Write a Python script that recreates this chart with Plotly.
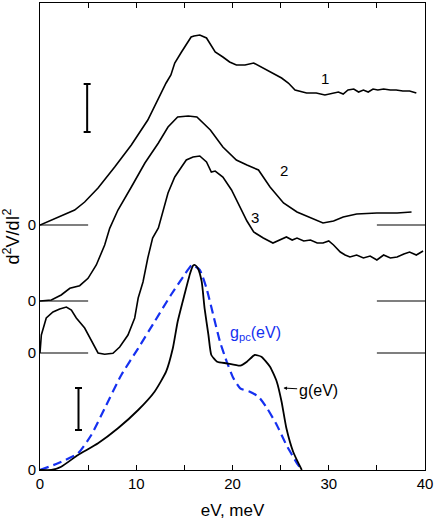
import plotly.graph_objects as go

# baselines of the stacked curves (arbitrary units, bottom = g(eV))
baselines = [245, 169, 117, 0]

# curve 1
c1_x = [0, 1.87, 3.6, 4.64, 6.03, 7.76, 9.49, 11.2, 12.3, 13.1, 13.6, 14.0, 14.7, 15.2,
        15.7, 16.0, 16.6, 17.3, 18.2, 19.0, 19.7, 20.4, 21.3, 22.2, 23.0, 24.1, 25.1,
        25.8, 26.5, 27.7, 28.7, 29.6, 30.5, 31.0, 31.5, 32.0, 32.6, 33.1, 33.6, 34.1,
        34.6, 35.1, 35.7, 36.4, 37.0, 37.7, 38.4, 39.1]
c1_y = [0, 8, 15, 23, 37, 58, 80, 105, 127, 142, 150, 162, 173, 181,
        188, 189, 190, 187, 173, 168, 163, 160, 160, 162, 158, 152, 147,
        142, 135, 132, 132, 130, 132, 133, 131, 135, 136, 133, 135, 133,
        136, 135, 136, 135, 135, 134, 134, 132]

# curve 2
c2_x = [0, 1.18, 2.2, 3.1, 4.12, 4.99, 5.85, 6.72, 7.24, 8.1, 9.49, 10.9, 12.3, 13.3,
        14.3, 15.4, 16.3, 17.7, 19.0, 20.4, 21.5, 22.7, 23.9, 25.3, 26.7, 28.1, 29.4,
        30.5, 31.5, 32.9, 35.0, 37.1, 38.6]
c2_y = [0, 1, 6, 12.7, 15.3, 22.7, 36, 56, 72.7, 91, 114, 138, 158, 174,
        184, 185, 184, 171, 154, 141, 136, 131, 114, 98, 89, 83, 78,
        80, 84, 87, 88, 88, 89]

# curve 3
c3_x = [0, 0.14, 0.65, 1.35, 2.05, 2.74, 3.26, 3.77, 4.64, 5.33, 6.03, 6.72, 7.58,
        8.28, 9.14, 9.84, 10.2, 10.7, 11.2, 11.7, 12.3, 13.3, 14.0, 14.7, 15.2, 15.9,
        16.6, 17.3, 17.8, 18.2, 19.0, 19.9, 20.8, 21.5, 22.2, 23.2, 24.2, 24.9, 25.6,
        26.2, 26.7, 27.4, 28.1, 28.8, 29.4, 30.0, 30.5, 31.2, 31.7, 32.2, 32.9, 33.6,
        34.3, 35.0, 35.7, 36.4, 37.1, 37.8, 38.4, 39.1, 39.8]
c3_y = [0, 18, 35, 41, 44, 46, 43, 35, 25, 13, 0, -1.3, -0.3,
        6, 18, 35, 55, 71, 95, 115, 125, 160, 176, 186, 193, 196,
        197, 191, 181, 182, 176, 163, 146, 132, 121, 115, 110, 113, 116,
        113, 115, 112, 113, 110, 110, 112, 108, 101, 98, 96, 98, 95,
        97, 93, 98, 95, 96, 99, 101, 98, 102]

# g(eV)
g_x = [0, 1.18, 2.2, 3.95, 6.03, 8.1, 10.2, 11.9, 13.1, 13.8, 14.3, 15.0, 15.6, 15.9,
       16.1, 16.4, 16.8, 17.1, 17.5, 17.8, 18.4, 19.4, 20.8, 21.5, 22.3, 23.0, 23.9,
       24.6, 25.1, 25.6, 26.3, 27.2]
g_y = [0, 0, 3.3, 15, 26.7, 41.7, 60, 78.3, 98.3, 121.7, 148.3, 175, 196.7, 204.3,
       205, 201.7, 188.3, 161.7, 135, 115, 108.3, 106.7, 104.3, 108.3, 115, 113.3, 103.3,
       88.3, 68.3, 41.7, 18.3, 0]

# g_pc(eV)
gpc_x = [0, 1.87, 3.95, 5.33, 6.72, 8.45, 10.2, 11.9, 13.6, 15.0, 15.8, 16.6, 17.3,
         18.0, 18.7, 19.4, 20.1, 20.8, 21.8, 22.7, 23.6, 24.6, 25.6, 26.7, 27.2]
gpc_y = [0, 6.7, 16.7, 35, 61.7, 95, 121.7, 148.3, 175, 195, 205, 200, 181.7,
         155, 128.3, 108.3, 91.7, 81.7, 78.3, 73.3, 61.7, 45, 25, 6.7, 0]

# short zero-level markers at both sides
zero_left = [0, 5]
zero_right = [35, 40]

# vertical scale bars
bar_x = [4.9, 4.0]
bar_lo = [338, 40]
bar_hi = [386, 82]

x_ticks = [0, 5, 10, 15, 20, 25, 30, 35, 40]
x_ticktext = ["0", "", "10", "", "20", "", "30", "", "40"]

FONT = "Arial, Liberation Sans, sans-serif"

fig = go.Figure()

for base in baselines[:3]:
    for seg in (zero_left, zero_right):
        fig.add_trace(go.Scatter(
            x=seg, y=[base, base], mode="lines",
            line=dict(color="#555555", width=1.3), hoverinfo="skip",
        ))

for cx, cy, base in [(c1_x, c1_y, baselines[0]),
                     (c2_x, c2_y, baselines[1]),
                     (c3_x, c3_y, baselines[2])]:
    fig.add_trace(go.Scatter(
        x=cx, y=[base + v for v in cy], mode="lines",
        line=dict(color="black", width=1.6),
    ))

fig.add_trace(go.Scatter(
    x=gpc_x, y=gpc_y, mode="lines",
    line=dict(color="#1530f0", width=2.2, dash="9px,5px", shape="spline", smoothing=0.5),
))
fig.add_trace(go.Scatter(
    x=g_x, y=g_y, mode="lines",
    line=dict(color="black", width=1.8, shape="spline", smoothing=0.5),
))

fig.add_trace(go.Scatter(
    x=bar_x, y=[(lo + hi) / 2 for lo, hi in zip(bar_lo, bar_hi)],
    mode="markers", marker=dict(size=1, color="black"),
    error_y=dict(type="data", array=[(hi - lo) / 2 for lo, hi in zip(bar_lo, bar_hi)],
                 color="black", thickness=2, width=3.5),
))

fig.add_annotation(x=29.6, y=392, text="1", showarrow=False,
                   font=dict(size=15, family=FONT, color="black"))
fig.add_annotation(x=25.3, y=300, text="2", showarrow=False,
                   font=dict(size=15, family=FONT, color="black"))
fig.add_annotation(x=22.3, y=253, text="3", showarrow=False,
                   font=dict(size=15, family=FONT, color="black"))
fig.add_annotation(x=19.5, y=137, text="g<sub>pc</sub>(eV)", showarrow=False,
                   xanchor="left", font=dict(size=16, family=FONT, color="#1530f0"))
fig.add_annotation(x=25.3, y=82, ax=28.9, ay=80, axref="x", ayref="y",
                   text="g(eV)", showarrow=True, arrowhead=2, arrowsize=0.7,
                   arrowwidth=1, arrowcolor="black",
                   font=dict(size=16, family=FONT, color="black"))

fig.update_layout(
    width=436, height=520,
    margin=dict(l=40, r=11, t=3, b=50),
    plot_bgcolor="white", paper_bgcolor="white",
    showlegend=False,
    font=dict(family=FONT, size=14, color="black"),
)
fig.update_xaxes(
    range=[0, 40], tickvals=x_ticks, ticktext=x_ticktext,
    ticks="inside", ticklen=5, tickcolor="black",
    showline=True, linecolor="black", linewidth=1, mirror="ticks",
    showgrid=False, zeroline=False, automargin=False,
    title=dict(text="eV, meV", font=dict(size=17, family=FONT), standoff=14),
    tickfont=dict(size=15, family=FONT),
)
fig.update_yaxes(
    range=[0, 467], tickvals=baselines, ticktext=["0"] * len(baselines),
    ticks="", showline=True, linecolor="black", linewidth=1, mirror=True,
    showgrid=False, zeroline=False, automargin=False,
    title=dict(text="d<sup>2</sup>V/dI<sup>2</sup>", font=dict(size=18, family=FONT), standoff=6),
    tickfont=dict(size=15, family=FONT),
)

# the page's default body margin would shift the fixed-size figure
fig.write_html("out.html", config={"displayModeBar": False},
               post_script="document.body.style.margin='0';")
